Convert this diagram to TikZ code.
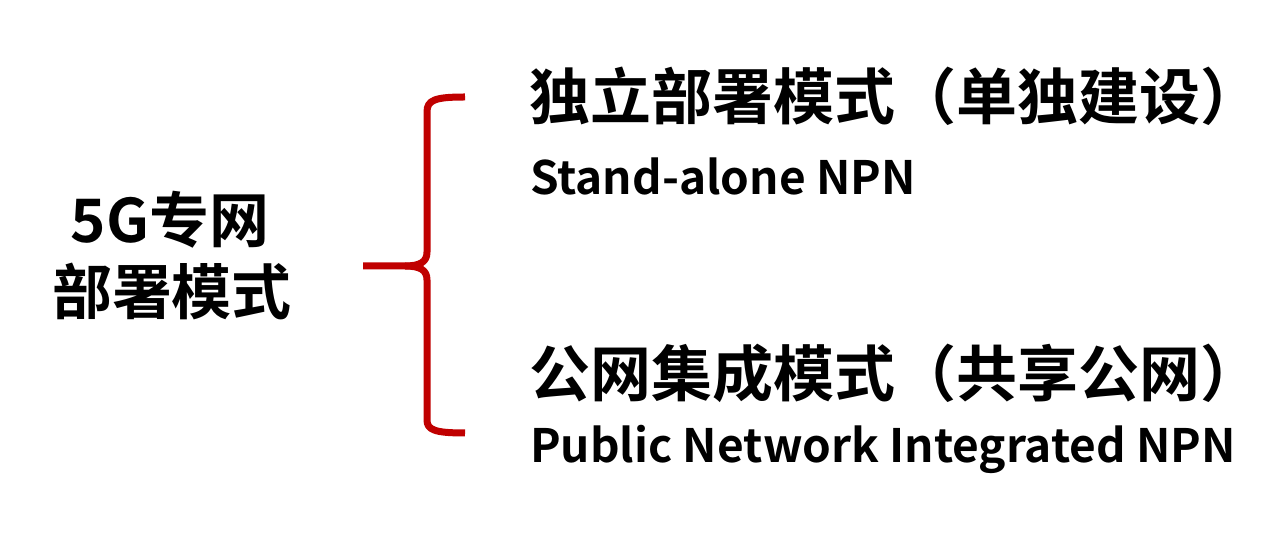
\documentclass[tikz,border=0pt]{standalone}
\usepackage{fontspec}
\setmainfont{Noto Sans CJK SC Bold}
\definecolor{bracered}{RGB}{192,0,0}
\begin{document}
\begin{tikzpicture}[x=1pt,y=1pt,
  cjk/.style={inner sep=0pt,font=\fontsize{60}{70}\selectfont},
  title/.style={inner sep=0pt,font=\fontsize{61}{70}\selectfont},
  latin/.style={inner sep=0pt,font=\fontsize{46}{56}\selectfont},
  brace/.style={draw=bracered,line width=7pt,line cap=butt,line join=round}]
\useasboundingbox (0,0) rectangle (1280,534);
\node[cjk] (l1) at (170,314) {5G专网};
\node[cjk] (l2) at (172,243) {部署模式};
\node[title,anchor=west] (t1) at (529,438) {独立部署模式（单独建设）};
\node[latin,anchor=base west] (s1) at (530,339) {Stand-alone NPN};
\node[title,anchor=west] (t2) at (529,161) {公网集成模式（共享公网）};
\node[latin,anchor=base west] (s2) at (530,71) {Public Network Integrated NPN};
\draw[brace] (465,437) .. controls (435,437) and (427,434) .. (427,422) -- (427,282)
  .. controls (427,272) and (420,268) .. (405,268) -- (363,268);
\draw[brace] (405,268) .. controls (420,268) and (427,264) .. (427,254) -- (427,114)
  .. controls (427,104) and (435,101) .. (465,101);
\end{tikzpicture}
\end{document}
